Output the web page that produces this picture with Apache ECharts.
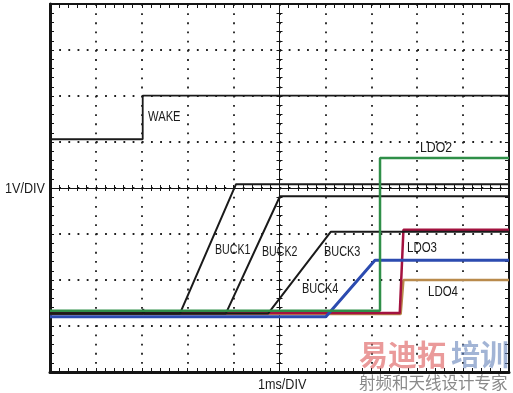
<!DOCTYPE html>
<html><head><meta charset="utf-8">
<script src="https://cdn.jsdelivr.net/npm/echarts@6/dist/echarts.min.js"></script>
<style>html,body{margin:0;padding:0;background:#fff}#c{width:513px;height:393px}</style>
</head><body><div id="c"></div><script>
// time in divisions (1 ms/DIV), voltage in divisions (1 V/DIV), bottom of screen = 0
const wakeX  = [0, 2.02, 2.02, 10];
const wakeY  = [5.06, 5.06, 6.01, 6.01];
const buck1X = [0, 2.02, 2.03, 2.05, 2.83, 4.05, 10];
const buck1Y = [1.27, 1.27, 1.37, 1.27, 1.27, 4.08, 4.08];
const buck2X = [0, 3.83, 5.01, 10];
const buck2Y = [1.27, 1.27, 3.82, 3.82];
const buck3X = [0, 4.75, 6.12, 10];
const buck3Y = [1.27, 1.27, 3.05, 3.05];
const buck4X = [0, 6.01, 7.08, 10];
const buck4Y = [1.2, 1.2, 2.43, 2.43];
const ldo2X  = [0, 7.19, 7.19, 10];
const ldo2Y  = [1.33, 1.33, 4.65, 4.65];
const ldo3X  = [0, 7.62, 7.7, 10];
const ldo3Y  = [1.28, 1.28, 3.09, 3.09];
const ldo4X  = [0, 7.64, 7.7, 10];
const ldo4Y  = [1.26, 1.26, 2.0, 2.0];

const zip = (xs, ys) => xs.map((x, i) => [x, ys[i]]);

const ink = '#141414';
const tickAxisX = (pos, extra) => Object.assign({
  type: 'value', min: 0, max: 10, interval: 0.2, position: pos,
  axisLine: { show: true, onZero: false, lineStyle: { color: ink, width: 2 } },
  axisTick: { show: true, inside: true, length: 4, lineStyle: { color: ink, width: 1 } },
  axisLabel: { show: false }, splitLine: { show: false }
}, extra);
const tickAxisY = (pos, extra) => Object.assign({
  type: 'value', min: 0, max: 8, interval: 0.2, position: pos,
  axisLine: { show: true, onZero: false, lineStyle: { color: ink, width: 2 } },
  axisTick: { show: true, inside: true, length: 4, lineStyle: { color: ink, width: 1 } },
  axisLabel: { show: false }, splitLine: { show: false }
}, extra);

const dotted = { color: '#1e1e1e', width: 1.8, type: [1.8, 7.38] };

const xAxes = [
  tickAxisX('bottom', { axisLine: { show: true, onZero: false, lineStyle: { color: ink, width: 3 } } }),
  tickAxisX('top', {}),
  tickAxisX('bottom', { offset: -184, axisLine: { show: true, onZero: false, lineStyle: { color: ink, width: 1 } },
    axisTick: { show: true, inside: true, length: 3, lineStyle: { color: ink, width: 1 } } }),
  tickAxisX('bottom', { offset: -184, axisLine: { show: false, onZero: false },
    axisTick: { show: true, inside: false, length: 3, lineStyle: { color: ink, width: 1 } } }),
  { type: 'value', min: 0, max: 10, interval: 1, axisLine: { show: false, onZero: false }, axisTick: { show: false },
    axisLabel: { show: false }, splitLine: { show: true, lineStyle: dotted } }
];
const yAxes = [
  tickAxisY('left', { axisLine: { show: true, onZero: false, lineStyle: { color: ink, width: 3 } } }),
  tickAxisY('right', {}),
  tickAxisY('left', { offset: -229.5, axisLine: { show: true, onZero: false, lineStyle: { color: ink, width: 1 } },
    axisTick: { show: true, inside: true, length: 3, lineStyle: { color: ink, width: 1 } } }),
  tickAxisY('left', { offset: -229.5, axisLine: { show: false, onZero: false },
    axisTick: { show: true, inside: false, length: 3, lineStyle: { color: ink, width: 1 } } }),
  { type: 'value', min: 0, max: 8, interval: 1, axisLine: { show: false, onZero: false }, axisTick: { show: false },
    axisLabel: { show: false }, splitLine: { show: true, lineStyle: dotted } }
];

const line = (name, xs, ys, color, width) => ({
  name, type: 'line', data: zip(xs, ys), showSymbol: false, symbol: 'none',
  xAxisIndex: 0, yAxisIndex: 0, lineStyle: { color, width }, silent: true, z: 5
});

const font = 'Liberation Sans, Arial, sans-serif';
const lbl = (text, x, y, size, sx, align) => ({
  type: 'text', x, y, scaleX: sx, originX: 0, originY: 0, z: 20,
  style: { text, fill: '#1a1a1a', font: size + 'px ' + font, textAlign: align || 'left', textVerticalAlign: 'middle' }
});

const chart = echarts.init(document.getElementById('c'), null, { renderer: 'canvas' });
chart.setOption({
  animation: false,
  backgroundColor: '#fff',
  grid: { left: 50, top: 4, width: 459, height: 368, containLabel: false },
  xAxis: xAxes,
  yAxis: yAxes,
  series: [
    line('LDO4', ldo4X, ldo4Y, '#b98a4c', 2.5),
    line('LDO3', ldo3X, ldo3Y, '#a3123f', 2.5),
    line('WAKE', wakeX, wakeY, '#1a1a1a', 1.8),
    line('BUCK1', buck1X, buck1Y, '#1a1a1a', 2),
    line('BUCK2', buck2X, buck2Y, '#1a1a1a', 2),
    line('BUCK3', buck3X, buck3Y, '#1a1a1a', 2),
    line('BUCK4', buck4X, buck4Y, '#2c4bb0', 3),
    line('LDO2', ldo2X, ldo2Y, '#2f8f48', 2.5)
  ],
  graphic: [
    lbl('WAKE', 148, 117, 14, 0.8),
    lbl('BUCK1', 215, 250, 14, 0.76),
    lbl('BUCK2', 262, 252, 14, 0.76),
    lbl('BUCK3', 324, 252, 14, 0.78),
    lbl('BUCK4', 302, 289, 14, 0.78),
    lbl('LDO2', 420, 148, 14, 0.88),
    lbl('LDO3', 407, 248, 14, 0.82),
    lbl('LDO4', 428, 292, 14, 0.82),
    lbl('1V/DIV', 5, 189, 15, 0.84),
    lbl('1ms/DIV', 258, 385, 14, 0.9),
    { type: 'text', x: 359, y: 355, z: 30, style: { text: '易迪拓', fill: 'rgba(222,100,100,0.65)',
      font: 'bold 29px "Noto Sans CJK SC", sans-serif', textVerticalAlign: 'middle' } },
    { type: 'text', x: 451, y: 355, z: 30, style: { text: '培训', fill: 'rgba(100,130,185,0.6)',
      font: 'bold 29px "Noto Sans CJK SC", sans-serif', textVerticalAlign: 'middle' } },
    { type: 'text', x: 359, y: 383, z: 30, style: { text: '射频和天线设计专家', fill: '#8a8a8a',
      font: '16.5px "Noto Sans CJK SC", sans-serif', textVerticalAlign: 'middle' } }
  ]
});
</script></body></html>
